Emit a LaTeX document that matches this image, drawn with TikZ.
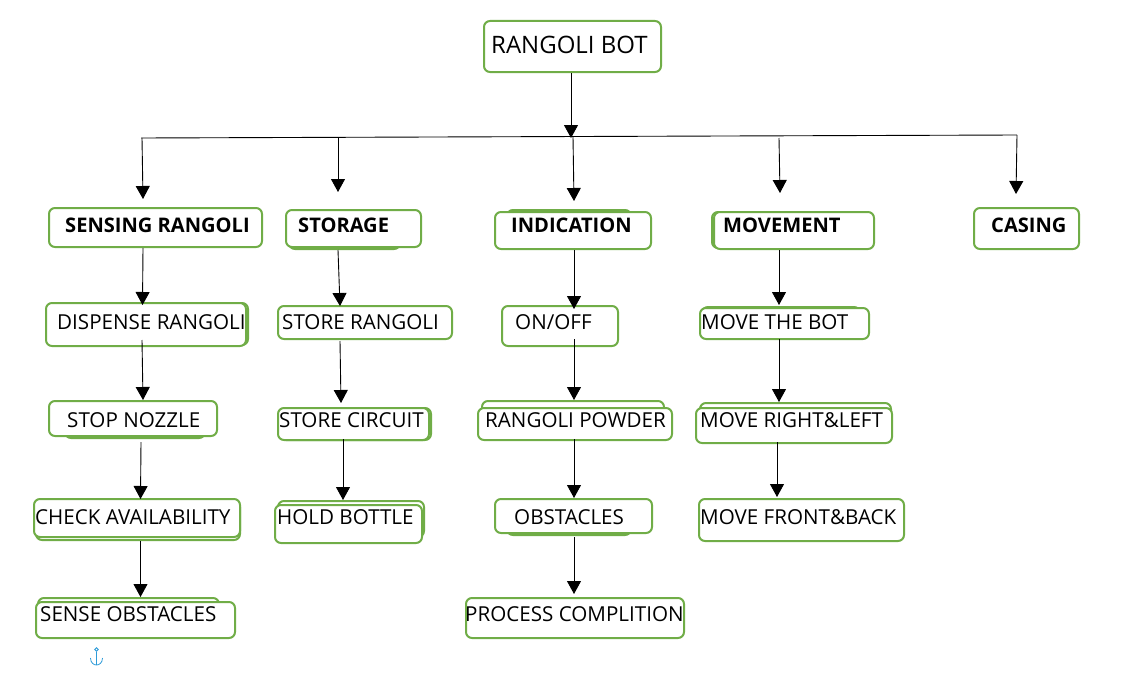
\documentclass[tikz,border=0pt]{standalone}
\usepackage{fontspec}
\setmainfont{Open Sans}
\usetikzlibrary{
  arrows.meta,
  fit
}
\definecolor{boxGreen}{HTML}{70AD47}
\definecolor{anchorBlue}{HTML}{2E9BD8}
\tikzset{
  bot box/.style={draw=boxGreen,line width=2pt,rounded corners=6pt,fill=white,inner sep=0pt},
  bot shadow/.style={draw=boxGreen,line width=2pt,rounded corners=6pt},
  bot text/.style={anchor=base west,inner sep=0pt,text=black,font=\fontsize{20.6}{24}\selectfont},
  bot head/.style={bot text,font=\fontsize{20.1}{24}\selectfont\bfseries},
  bot link/.style={line width=0.9pt,-{Triangle[width=14pt,length=13pt]}},
}

\begin{document}
\begin{tikzpicture}[x=1pt,y=-1pt]
\useasboundingbox (0,0) rectangle (1145,677);
% outlines peeking out behind the boxes
\foreach \xa/\ya/\xb/\yb in {
  289/215/400/249, 507/210/631/240, 712/212/870/248, 50/303/248/345,
  702/307/860/335, 65/410/205/438, 280/408/431/440, 482/401/664/430,
  700/403/891/435, 36/501/240/540, 278/501/424/537, 507/510/631/535,
  38/598/219/630
} {
  \draw[bot shadow] (\xa,\ya) rectangle (\xb,\yb);
}
\foreach \name/\xa/\ya/\xb/\yb in {
  root/484/21/661/72,
  sensing/49/208/262/247, storage/286/210/421/247, indication/495/212/651/249,
  movement/714/212/874/249, casing/974/208/1079/249,
  dispense/46/303/246/346, storeRangoli/278/306/452/339, onOff/502/306/618/346,
  moveBot/700/308/869/339,
  stopNozzle/49/401/217/436, storeCircuit/278/408/429/440,
  powder/478/408/672/440, moveSide/696/408/892/443,
  check/34/499/240/537, holdBottle/275/505/422/543, obstacles/495/499/652/533,
  moveFront/699/499/904/541,
  senseObst/36/602/235/638, process/466/598/684/638
} {
  \node[bot box,fit={(\xa,\ya) (\xb,\yb)}] (\name) {};
}
\node[bot text,font=\fontsize{24}{28}\selectfont] (rootText) at (491,53) {RANGOLI BOT};
\foreach \name/\x/\y/\label in {
  sensingText/65/232/SENSING RANGOLI, storageText/298/232/STORAGE,
  indicationText/511/232/INDICATION, movementText/723/232/MOVEMENT,
  casingText/991/232/CASING
} {
  \node[bot head] (\name) at (\x,\y) {\label};
}
\foreach \name/\x/\y/\label in {
  dispenseText/57/329/DISPENSE RANGOLI, storeRangoliText/282/329/STORE RANGOLI,
  onOffText/515/329/{ON/OFF}, moveBotText/701/329/MOVE THE BOT,
  stopText/67/427/STOP NOZZLE, storeCircuitText/279/427/STORE CIRCUIT,
  powderText/485/427/RANGOLI POWDER, moveSideText/700/427/MOVE RIGHT\&LEFT,
  checkText/35/524/CHECK AVAILABILITY, holdText/277/524/HOLD BOTTLE,
  obstaclesText/514/524/OBSTACLES, moveFrontText/700/524/MOVE FRONT\&BACK,
  senseText/40/621/SENSE OBSTACLES, processText/465/621/PROCESS COMPLITION
} {
  \node[bot text] (\name) at (\x,\y) {\label};
}
% branch line under the root
\coordinate (busLeft) at (141,138);
\coordinate (busRight) at (1017,135);
\coordinate (busMid) at (571,138);
\draw[line width=0.9pt] (busLeft) -- (busRight);
\draw[bot link] (root.south) ++(-1.5,0) -- (busMid);
\foreach \xa/\ya/\to/\sx/\sy in {
  142/138/sensing/-12.5/-8, 338/138/storage/-15.5/-17, 573/137/indication/1/-10,
  779/138/movement/-14/-18, 1017/135/casing/-10.5/-13
} {
  \draw[bot link] (\xa,\ya) -- ([shift={(\sx,\sy)}]\to.north);
}
\foreach \from/\fx/\fy/\to/\tx/\ty in {
  sensing/-12.5/0/dispense/-3.5/3,
  dispense/-4/-7/stopNozzle/10/0,
  stopNozzle/8/5/check/3.5/1,
  check/3.5/3/senseObst/5/-4,
  storage/-15.5/2/storeRangoli/-25/1,
  storeRangoli/-25/1/storeCircuit/-12.5/-4,
  storeCircuit/-10.5/-2/holdBottle/-5.5/-4,
  indication/1/0/onOff/14/4,
  onOff/14/-8/powder/-1/-7,
  powder/-1/-2/obstacles/0.5/0,
  obstacles/0.5/3/process/-1/-3,
  movement/-15/0/moveBot/-5.5/-2,
  moveBot/-5.5/-1/moveSide/-15/-5,
  moveSide/-17/-2/moveFront/-24.5/-1
} {
  \draw[bot link] ([shift={(\fx,\fy)}]\from.south) -- ([shift={(\tx,\ty)}]\to.north);
}
% small anchor mark
\draw[anchorBlue,line width=0.8pt] (96.5,649.5) circle (1.8);
\draw[anchorBlue,line width=0.8pt] (96.5,651.5) -- (96.5,665);
\draw[anchorBlue,line width=0.8pt] (90.5,658) .. controls (90.5,663) and (94,665) .. (96.5,665) .. controls (99,665) and (102.5,663) .. (102.5,658);
\end{tikzpicture}
\end{document}
